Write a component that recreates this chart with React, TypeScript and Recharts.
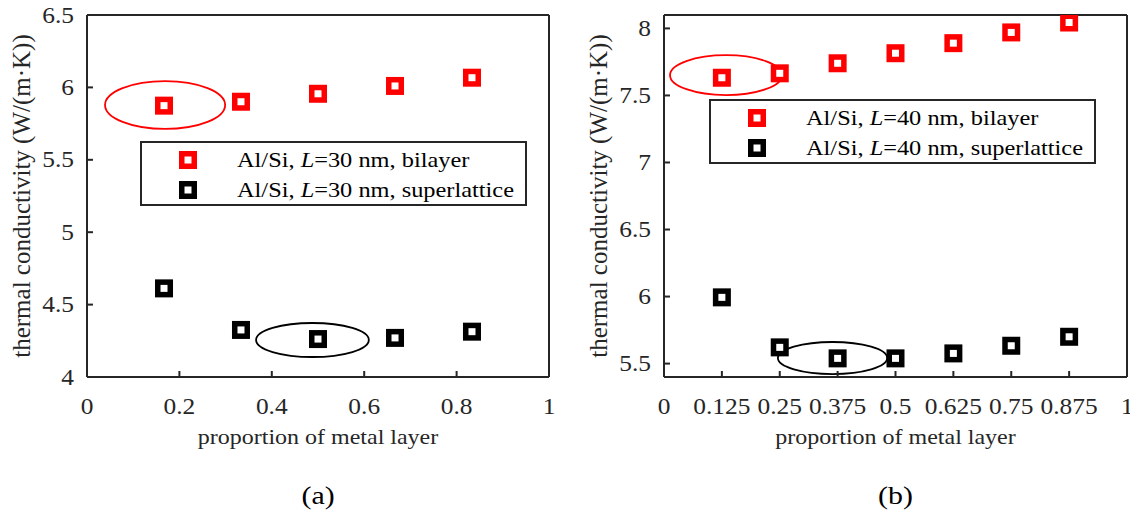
import React from "react";
import { ScatterChart, Scatter, XAxis, YAxis, ReferenceArea } from "recharts";

const FONT = '"Liberation Serif", "Times New Roman", serif';
const INK = "#262626";

// panel (a): L = 30 nm
const xA = [0.1667, 0.3333, 0.5, 0.6667, 0.8333];
const bilayerA = [5.874, 5.901, 5.956, 6.01, 6.067];
const superA = [4.612, 4.325, 4.262, 4.27, 4.313];
const xTicksA = [0, 0.2, 0.4, 0.6, 0.8, 1];
const yTicksA = [4, 4.5, 5, 5.5, 6, 6.5];
const yDomainA = [4, 6.5];
// highlight ellipses (bounds in data units): bilayer first, superlattice second
const ellipsesA = [
  { x1: 0.039, x2: 0.299, y1: 5.713, y2: 6.044 },
  { x1: 0.366, x2: 0.61, y1: 4.138, y2: 4.373 },
];

// panel (b): L = 40 nm
const xB = [0.125, 0.25, 0.375, 0.5, 0.625, 0.75, 0.875];
const bilayerB = [7.632, 7.665, 7.74, 7.815, 7.89, 7.97, 8.044];
const superB = [5.994, 5.621, 5.539, 5.539, 5.576, 5.633, 5.7];
const xTicksB = [0, 0.125, 0.25, 0.375, 0.5, 0.625, 0.75, 0.875, 1];
const yTicksB = [5.5, 6, 6.5, 7, 7.5, 8];
const yDomainB = [5.4, 8.1];
const ellipsesB = [
  { x1: 0.013, x2: 0.255, y1: 7.503, y2: 7.8 },
  { x1: 0.246, x2: 0.482, y1: 5.422, y2: 5.661 },
];

const seriesKinds = ["bilayer", "superlattice"];
const seriesColors = ["#ff0000", "#000000"];

const axisStyle = { stroke: INK, strokeWidth: 2 };

function WideText({ x, y, size, sx = 1, anchor = "middle", rotate = false, fill = INK, children }: any) {
  const t = `translate(${x},${y}) scale(${sx},1)${rotate ? " rotate(-90)" : ""}`;
  return (
    <text transform={t} textAnchor={anchor} fontSize={size} fontFamily={FONT} fill={fill}>
      {children}
    </text>
  );
}

const renderXTick = (p: any) => (
  <WideText x={p.x} y={p.y} size={22.5} sx={1.13}>
    {String(p.payload.value)}
  </WideText>
);

const renderYTick = (p: any) => (
  <WideText x={p.x} y={p.y + 7.5} size={22.5} sx={1.13} anchor="end">
    {String(p.payload.value)}
  </WideText>
);

const squareShape = (color: string) => (p: any) => (
  <rect
    x={p.cx - 6.25}
    y={p.cy - 6.25}
    width={12.5}
    height={12.5}
    fill="#fff"
    stroke={color}
    strokeWidth={5.5}
  />
);

const ellipseShape = (color: string) => (p: any) => (
  <ellipse
    cx={p.x + p.width / 2}
    cy={p.y + p.height / 2}
    rx={Math.abs(p.width) / 2}
    ry={Math.abs(p.height) / 2}
    fill="none"
    stroke={color}
    strokeWidth={1.8}
  />
);

function LegendBox({ left, top, L }: any) {
  return (
    <div
      style={{
        position: "absolute",
        left,
        top,
        width: 383,
        height: 61,
        border: `2px solid ${INK}`,
        background: "#fff",
      }}
    >
      {seriesKinds.map((kind, i) => (
        <div key={kind} style={{ position: "absolute", left: 0, top: 2 + 30 * i, height: 30, width: "100%" }}>
          <svg style={{ position: "absolute", left: 37, top: 6 }} width={18} height={18}>
            <rect x={2.75} y={2.75} width={12.5} height={12.5} fill="#fff" stroke={seriesColors[i]} strokeWidth={5.5} />
          </svg>
          <span
            style={{
              position: "absolute",
              left: 95,
              top: 0,
              lineHeight: "30px",
              fontFamily: FONT,
              fontSize: 21,
              color: "#000",
              transform: "scaleX(1.16)",
              transformOrigin: "left center",
              whiteSpace: "nowrap",
            }}
          >
            Al/Si, <i>L</i>={L} nm, {kind}
          </span>
        </div>
      ))}
    </div>
  );
}

function Panel({ xs, bilayer, superl, xTicks, yTicks, yDomain, ellipses, width, margin, caption }: any) {
  const red = xs.map((x: number, i: number) => ({ x, y: bilayer[i] }));
  const black = xs.map((x: number, i: number) => ({ x, y: superl[i] }));

  const renderXLabel = (p: any) => {
    const vb = p.viewBox;
    const cx = vb.x + vb.width / 2;
    return (
      <g>
        <WideText x={cx} y={vb.y + 67} size={20} sx={1.2}>
          proportion of metal layer
        </WideText>
        <WideText x={cx} y={vb.y + 127} size={26} sx={1.15} fill="#000">
          {caption}
        </WideText>
      </g>
    );
  };

  const renderYLabel = (p: any) => {
    const vb = p.viewBox;
    return (
      <WideText x={vb.x + vb.width - 57} y={vb.y + vb.height / 2} size={25} rotate>
        thermal conductivity (W/(m·K))
      </WideText>
    );
  };

  return (
    <ScatterChart width={width} height={511} margin={margin}>
      <XAxis
        type="number"
        dataKey="x"
        domain={[0, 1]}
        ticks={xTicks}
        interval={0}
        allowDataOverflow
        height={40}
        tickSize={-6}
        tickMargin={43}
        axisLine={axisStyle}
        tickLine={axisStyle}
        tick={renderXTick}
        label={renderXLabel}
      />
      <XAxis
        xAxisId="top"
        orientation="top"
        type="number"
        dataKey="x"
        domain={[0, 1]}
        ticks={xTicks}
        interval={0}
        allowDataOverflow
        height={1}
        tickSize={-6}
        axisLine={axisStyle}
        tickLine={axisStyle}
        tick={false}
      />
      <YAxis
        type="number"
        dataKey="y"
        domain={yDomain}
        ticks={yTicks}
        interval={0}
        allowDataOverflow
        width={60}
        tickSize={-6}
        tickMargin={19}
        axisLine={axisStyle}
        tickLine={axisStyle}
        tick={renderYTick}
        label={renderYLabel}
      />
      <YAxis
        yAxisId="right"
        orientation="right"
        type="number"
        dataKey="y"
        domain={yDomain}
        ticks={yTicks}
        interval={0}
        allowDataOverflow
        width={1}
        tickSize={-6}
        axisLine={axisStyle}
        tickLine={axisStyle}
        tick={false}
      />
      <Scatter data={red} shape={squareShape(seriesColors[0])} isAnimationActive={false} />
      <Scatter data={black} shape={squareShape(seriesColors[1])} isAnimationActive={false} />
      {ellipses.map((e: any, i: number) => (
        <ReferenceArea
          key={i}
          x1={e.x1}
          x2={e.x2}
          y1={e.y1}
          y2={e.y2}
          ifOverflow="visible"
          shape={ellipseShape(seriesColors[i])}
        />
      ))}
    </ScatterChart>
  );
}

export default function App() {
  return (
    <div style={{ position: "absolute", left: 0, top: 0, width: 1130, height: 511, background: "#fff", overflow: "hidden" }}>
      <div style={{ position: "absolute", left: 0, top: 0 }}>
        <Panel
          xs={xA}
          bilayer={bilayerA}
          superl={superA}
          xTicks={xTicksA}
          yTicks={yTicksA}
          yDomain={yDomainA}
          ellipses={ellipsesA}
          width={575}
          margin={{ top: 14, right: 25, bottom: 94, left: 27 }}
          caption="(a)"
        />
        <LegendBox left={140} top={141} L={30} />
      </div>
      <div style={{ position: "absolute", left: 575, top: 0 }}>
        <Panel
          xs={xB}
          bilayer={bilayerB}
          superl={superB}
          xTicks={xTicksB}
          yTicks={yTicksB}
          yDomain={yDomainB}
          ellipses={ellipsesB}
          width={555}
          margin={{ top: 14, right: 2, bottom: 94, left: 29 }}
          caption="(b)"
        />
        <LegendBox left={134} top={99} L={40} />
      </div>
    </div>
  );
}
